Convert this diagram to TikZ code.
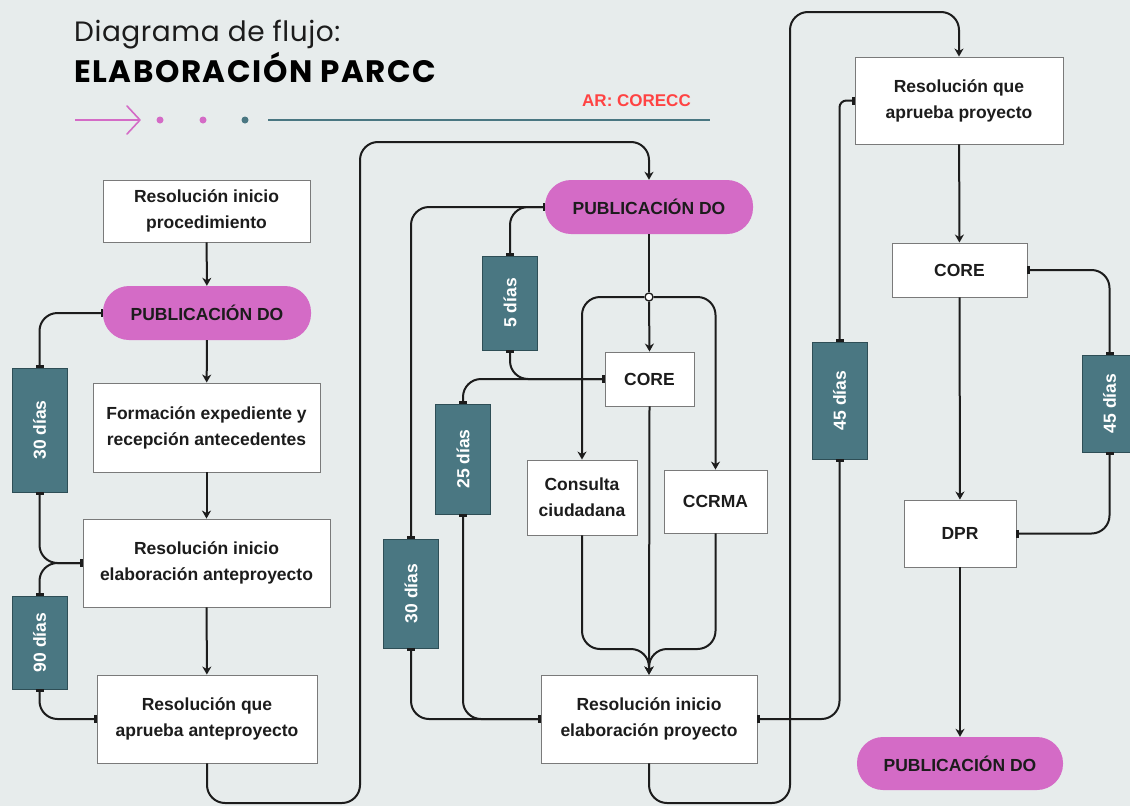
\documentclass[tikz,border=0pt]{standalone}
\usepackage{fontspec}
\setmainfont{Liberation Sans}
\newfontfamily\headfont{Poppins}
\newfontfamily\headfontA[LetterSpace=2]{Poppins}
\newfontfamily\headfontB[LetterSpace=5]{Poppins}
\usetikzlibrary{arrows.meta,calc,positioning}
\definecolor{bg}{HTML}{E7ECEC}
\definecolor{ink}{HTML}{1C1C1C}
\definecolor{frame}{HTML}{7A7A7A}
\definecolor{pinkc}{HTML}{D46BC6}
\definecolor{teal}{HTML}{4A7782}
\definecolor{tealdk}{HTML}{2E4E56}
\definecolor{redc}{HTML}{FF4343}
\newcommand\boxfont{\fontsize{17.5}{26}\selectfont\bfseries}
\tikzset{
  box/.style={draw=frame, line width=0.9pt, fill=white, align=center, inner sep=0pt, font=\boxfont, text=ink},
  pill/.style={fill=pinkc, rounded corners=26pt, inner sep=0pt, font=\boxfont, text=ink},
  dur/.style={fill=teal, draw=tealdk, line width=0.9pt, inner sep=0pt, minimum width=55pt, font=\boxfont, text=white},
  jct/.style={circle, draw=ink, fill=white, line width=1.3pt, inner sep=0pt, minimum size=8pt},
  link/.style={draw=ink, line width=2pt, rounded corners=18pt},
  arr/.style={-{Stealth[length=8pt,width=9pt,inset=2.5pt]}},
  tee/.style={{Bar[width=8pt,line width=2.2pt]}-{Bar[width=8pt,line width=2.2pt]}}
}

\begin{document}
\begin{tikzpicture}[x=1pt, y=-1pt]
  \fill[bg] (0,0) rectangle (1130,806);
  \useasboundingbox (0,0) rectangle (1130,806);

  % title
  \node[anchor=base west, inner sep=0pt, text=ink, font=\headfontA\fontsize{28}{30}\selectfont] (ttl) at (74,41) {Diagrama de flujo:};
  \node[anchor=base west, inner sep=0pt, text=black, font=\headfontB\fontsize{31}{34}\selectfont\bfseries] (ttl2) at (74,82) {ELABORACIÓN PARCC};
  \node[anchor=base west, inner sep=0pt, text=redc, font=\fontsize{17}{18}\selectfont\bfseries] (ar) at (582,106) {AR: CORECC};
  \draw[pinkc, line width=1.6pt] (75,120) -- (140,120);
  \draw[pinkc, line width=1.6pt, line cap=round, line join=round] (127,106) -- (140,120) -- (127,134);
  \fill[pinkc] (160,120) circle (3.5pt);
  \fill[pinkc] (203,120) circle (3.5pt);
  \fill[teal] (245,120) circle (3.5pt);
  \draw[teal, line width=2pt] (268,120) -- (710,120);

  % column 1
  \node[box, minimum width=207pt, minimum height=62pt] (rip) at (206.5,211) {Resolución inicio\\procedimiento};
  \node[pill, minimum width=208pt, minimum height=54pt] (p1) at (207,313) {PUBLICACIÓN DO};
  \node[box, minimum width=227pt, minimum height=89pt] (fexp) at (206.5,427.5) {Formación expediente y\\recepción antecedentes};
  \node[box, minimum width=247pt, minimum height=88pt] (rant) at (206.5,563) {Resolución inicio\\elaboración anteproyecto};
  \node[box, minimum width=220pt, minimum height=88pt] (rapa) at (207,719) {Resolución que\\aprueba anteproyecto};
  \node[dur, minimum height=124pt] (d30a) at (39.5,430) {\rotatebox{90}{30 días}};
  \node[dur, minimum height=93pt] (d90) at (39.5,642.5) {\rotatebox{90}{90 días}};

  % column 2
  \node[pill, minimum width=208pt, minimum height=54pt] (p2) at (649,207) {PUBLICACIÓN DO};
  \node[jct] (jn) at (649,297) {};
  \node[box, minimum width=89pt, minimum height=54pt] (core1) at (649.5,379) {CORE};
  \node[box, minimum width=110pt, minimum height=75pt] (cons) at (582,497.5) {Consulta\\ciudadana};
  \node[box, minimum width=103pt, minimum height=63pt] (ccrma) at (715.5,501.5) {CCRMA};
  \node[box, minimum width=216pt, minimum height=88pt] (rpro) at (649,719) {Resolución inicio\\elaboración proyecto};
  \node[dur, minimum height=94pt] (d5) at (510,303) {\rotatebox{90}{5 días}};
  \node[dur, minimum height=110pt] (d25) at (463,459) {\rotatebox{90}{25 días}};
  \node[dur, minimum height=109pt] (d30b) at (411,593.5) {\rotatebox{90}{30 días}};

  % column 3
  \node[box, minimum width=208pt, minimum height=87pt] (rqp) at (959,100.5) {Resolución que\\aprueba proyecto};
  \node[box, minimum width=135pt, minimum height=54pt] (core2) at (959.5,270) {CORE};
  \node[box, minimum width=112pt, minimum height=67pt] (dpr) at (960,533.5) {DPR};
  \node[pill, minimum width=206pt, minimum height=53pt] (p3) at (960,763.5) {PUBLICACIÓN DO};
  \node[dur, minimum height=117pt] (d45a) at (839.5,400.5) {\rotatebox{90}{45 días}};
  \node[dur, minimum height=97pt] (d45b) at (1109.5,403.5) {\rotatebox{90}{45 días}};

  \coordinate (lp1) at (360,803);
  \coordinate (lp2) at (360,142);
  \coordinate (rp1) at (790,803);
  \coordinate (rp2) at (790,12);
  \coordinate (mrg) at (649,649);

  % flow column 1
  \draw[link, arr] (rip) -- (p1);
  \draw[link, arr] (p1) -- (fexp);
  \draw[link, arr] (fexp) -- (rant);
  \draw[link, arr] (rant) -- (rapa);
  \draw[link, tee] (d30a.north) |- (p1.west);
  \draw[link, tee] (d30a.south) |- (rant.west);
  \draw[link, tee] (d90.north) |- (rant.west);
  \draw[link, tee] (d90.south) |- (rapa.west);
  \draw[link, arr] (rapa.south) |- (lp1) -- (lp2) -| (p2.north);

  % flow column 2
  \draw[link] (p2.south) -- (jn.north);
  \draw[link, arr] (jn.south) -- (core1.north);
  \draw[link, arr] (jn.west) -| (cons.north);
  \draw[link, arr] (jn.east) -| (ccrma.north);
  \draw[link, tee] (d5.north) |- (p2.west);
  \draw[link, tee] (d30b.north) |- (p2.west);
  \draw[link, tee] (d5.south) |- (core1.west);
  \draw[link, tee] (d25.north) |- (core1.west);
  \draw[link, tee] (d25.south) |- (rpro.west);
  \draw[link, tee] (d30b.south) |- (rpro.west);
  \draw[link, arr] (core1.south) -- (rpro.north);
  \draw[link, arr] (cons.south) |- (mrg) -- (rpro.north);
  \draw[link, arr] (ccrma.south) |- (mrg) -- (rpro.north);
  \draw[link, arr] (rpro.south) |- (rp1) -- (rp2) -| (rqp.north);

  % flow column 3
  \draw[link, tee] (d45a.south) |- (rpro.east);
  \draw[link, tee, rounded corners=7pt] (d45a.north) |- (rqp.west);
  \draw[link, arr] (rqp) -- (core2);
  \draw[link, arr] (core2) -- (dpr);
  \draw[link, arr] (dpr) -- (p3);
  \draw[link, tee] (d45b.north) |- (core2.east);
  \draw[link, tee] (d45b.south) |- (dpr.east);
\end{tikzpicture}
\end{document}
